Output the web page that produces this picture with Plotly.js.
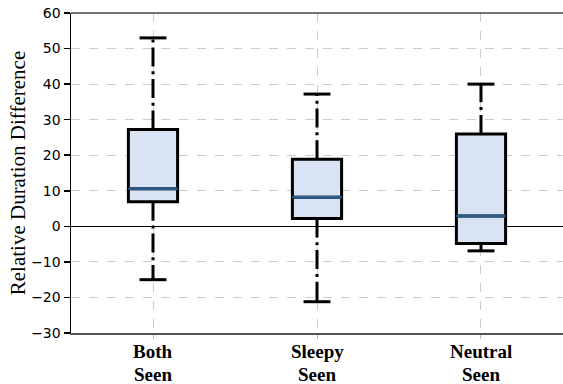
<!DOCTYPE html>
<html><head><meta charset="utf-8">
<script src="https://cdn.plot.ly/plotly-3.0.1.min.js"></script>
<style>html,body{margin:0;padding:0;background:#fff;overflow:hidden}#c{width:580px;height:384px}</style>
</head><body><div id="c"></div>
<script>
const categories = ["Both", "Sleepy", "Neutral"];
const subLabel = "Seen";
const positions = [1, 2, 3];
const lowerWhisker = [-15, -21.2, -6.9];
const q1 = [6.9, 2.2, -4.8];
const median = [10.6, 8.2, 2.9];
const q3 = [27.2, 18.9, 26.0];
const upperWhisker = [53, 37.2, 40];
const yTicks = [-30, -20, -10, 0, 10, 20, 30, 40, 50, 60];

const boxHalf = 0.15, capHalf = 0.082;
const medX = [], medY = [], wX = [], wY = [], cX = [], cY = [];
positions.forEach((p, i) => {
  medX.push(p - boxHalf, p + boxHalf, null); medY.push(median[i], median[i], null);
  wX.push(p, p, null, p, p, null); wY.push(q3[i], upperWhisker[i], null, q1[i], lowerWhisker[i], null);
  cX.push(p - capHalf, p + capHalf, null, p - capHalf, p + capHalf, null);
  cY.push(upperWhisker[i], upperWhisker[i], null, lowerWhisker[i], lowerWhisker[i], null);
});

const traces = [
  {type: 'scatter', mode: 'lines', x: wX, y: wY, line: {color: '#000', width: 3, dash: '19px,4.8px,3px,4.8px'}, hoverinfo: 'skip'},
  {type: 'scatter', mode: 'lines', x: cX, y: cY, line: {color: '#000', width: 3}, hoverinfo: 'skip'},
  {type: 'box', x: positions, q1: q1, median: median, q3: q3, lowerfence: q1, upperfence: q3,
   width: 0.3, whiskerwidth: 0, fillcolor: '#dae3f3', line: {color: '#000', width: 3}, hoverinfo: 'skip'},
  {type: 'scatter', mode: 'lines', x: medX, y: medY, line: {color: '#2b5a87', width: 3}, hoverinfo: 'skip'}
];

const labelFont = {family: 'Liberation Serif', size: 19, color: '#000'};
const annotations = [];
positions.forEach((p, i) => {
  annotations.push({x: p, xref: 'x', y: 0, yref: 'paper', yanchor: 'middle', yshift: -18,
    text: '<b>' + categories[i] + '</b>', showarrow: false, font: labelFont});
  annotations.push({x: p, xref: 'x', y: 0, yref: 'paper', yanchor: 'middle', yshift: -41,
    text: '<b>' + subLabel + '</b>', showarrow: false, font: labelFont});
});

const layout = {
  width: 580, height: 384,
  margin: {l: 71, r: 0, t: 13, b: 51},
  showlegend: false,
  plot_bgcolor: '#fff', paper_bgcolor: '#fff',
  annotations: annotations,
  shapes: [{type: 'line', xref: 'paper', yref: 'paper', x0: 0, x1: 1, y0: 1, y1: 1, line: {color: '#444', width: 1.5}}],
  xaxis: {
    range: [0.5, 3.6037], tickvals: positions, ticktext: ['', '', ''],
    showgrid: true, gridcolor: '#cccccc', griddash: 'dash', gridwidth: 1,
    zeroline: false, showline: true, mirror: false, linecolor: '#555', linewidth: 2,
    ticks: 'outside', ticklen: 4, tickcolor: '#bbb'
  },
  yaxis: {
    range: [-30, 60], tickvals: yTicks,
    showgrid: true, gridcolor: '#cccccc', griddash: 'dash', gridwidth: 1,
    zeroline: true, zerolinecolor: '#000', zerolinewidth: 1,
    showline: true, linecolor: '#000', linewidth: 1.5,
    ticks: 'outside', ticklen: 6, tickcolor: '#000', tickwidth: 1.5,
    tickfont: {family: 'DejaVu Sans', size: 14, color: '#000'},
    title: {text: 'Relative Duration Difference', font: {family: 'Liberation Serif', size: 21, color: '#000'}, standoff: 0}
  }
};
Plotly.newPlot('c', traces, layout, {staticPlot: true});
</script></body></html>
